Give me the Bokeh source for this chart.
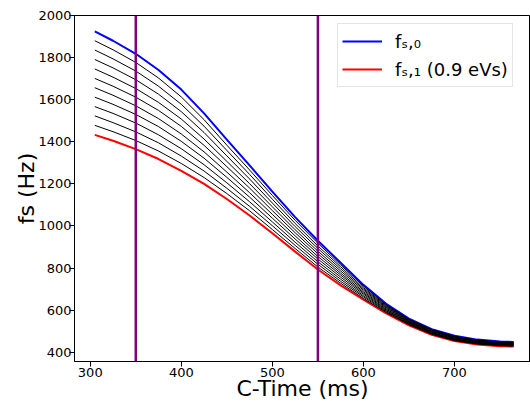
from bokeh.plotting import figure
from bokeh.models import Span, Legend, LegendItem, FixedTicker, Range1d
from bokeh.embed import file_html
from bokeh.resources import INLINE

# ---- data ----
c_time = [305, 325, 350, 375, 400, 425, 450, 475, 500, 525, 550, 575, 600, 625, 650, 675, 700, 725, 750, 765]
fs0 = [1925, 1880, 1818, 1741, 1648, 1535, 1410, 1288, 1163, 1042, 930, 825, 720, 630, 560, 510, 478, 460, 451, 449]
fs1 = [1433, 1405, 1365, 1318, 1262, 1200, 1128, 1050, 965, 878, 793, 718, 650, 585, 528, 483, 453, 437, 429, 427]

mid01 = [1880, 1837, 1777, 1703, 1613, 1505, 1384, 1266, 1145, 1027, 918, 815, 714, 626, 557, 508, 476, 458, 449, 447]
mid02 = [1836, 1794, 1736, 1664, 1578, 1474, 1359, 1245, 1127, 1012, 905, 806, 707, 622, 554, 505, 473, 456, 447, 445]
mid03 = [1791, 1751, 1695, 1626, 1543, 1444, 1333, 1223, 1109, 997, 893, 796, 701, 618, 551, 503, 471, 454, 445, 443]
mid04 = [1746, 1707, 1653, 1587, 1508, 1413, 1307, 1201, 1091, 982, 880, 786, 695, 614, 548, 500, 469, 452, 443, 441]
mid05 = [1701, 1664, 1612, 1549, 1473, 1383, 1282, 1180, 1073, 968, 868, 776, 688, 610, 545, 498, 467, 450, 441, 439]
mid06 = [1657, 1621, 1571, 1510, 1437, 1352, 1256, 1158, 1055, 953, 855, 767, 682, 605, 543, 495, 464, 447, 439, 437]
mid07 = [1612, 1578, 1530, 1472, 1402, 1322, 1231, 1137, 1037, 938, 843, 757, 676, 601, 540, 493, 462, 445, 437, 435]
mid08 = [1567, 1535, 1489, 1433, 1367, 1291, 1205, 1115, 1019, 923, 830, 747, 669, 597, 537, 490, 460, 443, 435, 433]
mid09 = [1523, 1491, 1447, 1395, 1332, 1261, 1179, 1093, 1001, 908, 818, 737, 663, 593, 534, 488, 458, 441, 433, 431]
mid10 = [1478, 1448, 1406, 1356, 1297, 1230, 1154, 1072, 983, 893, 805, 728, 656, 589, 531, 485, 455, 439, 431, 429]
mids = [mid01, mid02, mid03, mid04, mid05, mid06, mid07, mid08, mid09, mid10]

vlines = [350, 550]
x_ticks = [300, 400, 500, 600, 700]
y_ticks = [400, 600, 800, 1000, 1200, 1400, 1600, 1800, 2000]

label0 = "fₛ,₀"
label1 = "fₛ,₁ (0.9 eVs)"

FONT = "DejaVu Sans"

p = figure(width=530, height=403, output_backend="svg", toolbar_location=None,
           x_range=Range1d(282.7, 783.5), y_range=Range1d(356, 2000),
           min_border_left=74, min_border_right=0, min_border_top=15, min_border_bottom=42)
p.xgrid.visible = False
p.ygrid.visible = False
p.outline_line_color = "black"
p.outline_line_width = 1
p.background_fill_color = "white"
p.border_fill_color = "white"

rb = p.line(c_time, fs0, line_color="#0000ff", line_width=2, line_join="round")
rr = p.line(c_time, fs1, line_color="#ff0000", line_width=2, line_join="round")
for m in mids:
    p.line(c_time, m, line_color="black", line_width=1, line_join="round")

for v in vlines:
    p.add_layout(Span(location=v, dimension="height", line_color="#800080", line_width=2.5))

p.xaxis.ticker = FixedTicker(ticks=x_ticks)
p.yaxis.ticker = FixedTicker(ticks=y_ticks)
for ax in (p.xaxis[0], p.yaxis[0]):
    ax.axis_line_color = "black"
    ax.major_tick_line_color = "black"
    ax.major_tick_out = 5
    ax.major_tick_in = 0
    ax.minor_tick_line_color = None
    ax.major_label_text_font = FONT
    ax.major_label_text_font_size = "13px"
    ax.major_label_text_color = "black"
    ax.axis_label_text_font = FONT
    ax.axis_label_text_font_size = "22px"
    ax.axis_label_text_font_style = "normal"
    ax.axis_label_text_color = "black"

p.xaxis.axis_label = "C-Time (ms)"
p.xaxis.major_label_standoff = 1
p.xaxis.axis_label_standoff = -4
p.yaxis.axis_label = "fs (Hz)"
p.yaxis.major_label_standoff = -2
p.yaxis.axis_label_standoff = -4

legend = Legend(items=[LegendItem(label=label0, renderers=[rb]),
                       LegendItem(label=label1, renderers=[rr])],
                location=(263, 274), orientation="vertical",
                label_text_font=FONT, label_text_font_size="18px", label_text_color="black",
                glyph_width=40, glyph_height=26, label_height=26, label_standoff=13,
                spacing=2, padding=4, margin=0,
                border_line_color="#cccccc", border_line_width=1,
                background_fill_color="white", background_fill_alpha=0.8)
p.add_layout(legend)

open("out.html", "w").write(file_html(p, INLINE))
